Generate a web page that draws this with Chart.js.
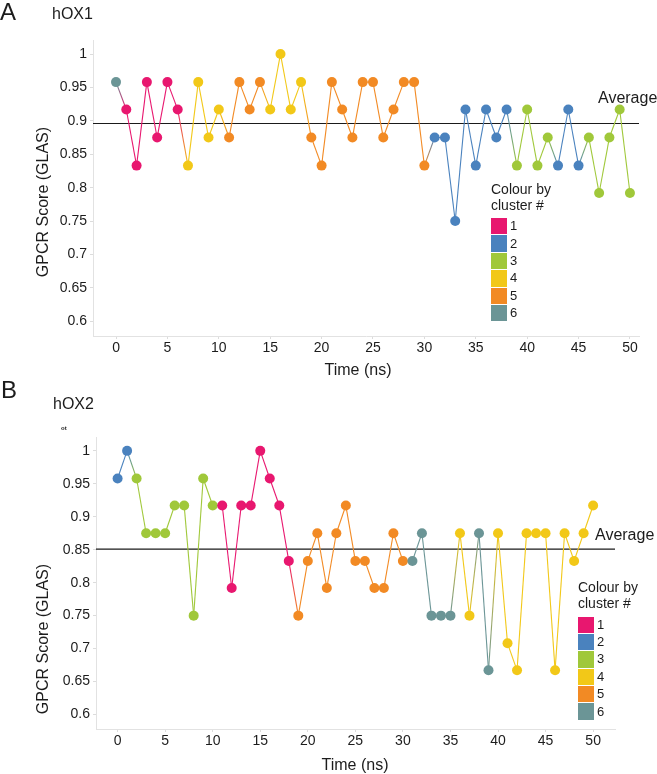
<!DOCTYPE html>
<html>
<head>
<meta charset="utf-8">
<script src="https://cdn.jsdelivr.net/npm/chart.js@4.4.0/dist/chart.umd.min.js"></script>
<style>
  body { margin: 0; background: #fff; font-family: 'Liberation Sans', Arial, Helvetica, sans-serif; color: #1c1c1c; }
  #page { position: relative; width: 657px; height: 774px; overflow: hidden; }
  canvas { position: absolute; left: 0; }
  .lbl { position: absolute; white-space: nowrap; line-height: 1; }
  .ytitle { transform: translate(-50%, -50%) rotate(-90deg); font-size: 16px; }
  .xtitle { transform: translate(-50%, -50%); font-size: 16px; }
  .legend { position: absolute; font-size: 14px; line-height: 16px; }
  .legend .row { display: flex; align-items: center; height: 17.4px; }
  .legend .sw { width: 16px; height: 16.4px; margin-right: 3px; }
  .legend .num { font-size: 13px; }
</style>
</head>
<body>
<div id="page">
  <canvas id="chartA" width="657" height="380" style="top:0"></canvas>
  <canvas id="chartB" width="657" height="394" style="top:380px"></canvas>
</div>
<script>
// time axis (ns) shared by both receptors
const timeNs = [0, 1, 2, 3, 4, 5, 6, 7, 8, 9, 10, 11, 12, 13, 14, 15, 16, 17, 18, 19,
  20, 21, 22, 23, 24, 25, 26, 27, 28, 29, 30, 31, 32, 33, 34, 35, 36, 37, 38, 39,
  40, 41, 42, 43, 44, 45, 46, 47, 48, 49, 50];

// hOX1 GLAS scores and cluster of each frame
const hox1Score = [0.958, 0.917, 0.833, 0.958, 0.875, 0.958, 0.917, 0.833, 0.958, 0.875,
  0.917, 0.875, 0.958, 0.917, 0.958, 0.917, 1.0, 0.917, 0.958, 0.875,
  0.833, 0.958, 0.917, 0.875, 0.958, 0.958, 0.875, 0.917, 0.958, 0.958,
  0.833, 0.875, 0.875, 0.75, 0.917, 0.833, 0.917, 0.875, 0.917, 0.833,
  0.917, 0.833, 0.875, 0.833, 0.917, 0.833, 0.875, 0.792, 0.875, 0.917, 0.792];
const hox1Cluster = [6, 1, 1, 1, 1, 1, 1, 4, 4, 4,
  4, 5, 5, 5, 5, 4, 4, 4, 4, 5,
  5, 5, 5, 5, 5, 5, 5, 5, 5, 5,
  5, 2, 2, 2, 2, 2, 2, 2, 2, 3,
  3, 3, 3, 2, 2, 2, 3, 3, 3, 3, 3];

// hOX2 GLAS scores and cluster of each frame
const hox2Score = [0.958, 1.0, 0.958, 0.875, 0.875, 0.875, 0.917, 0.917, 0.75, 0.958,
  0.917, 0.917, 0.792, 0.917, 0.917, 1.0, 0.958, 0.917, 0.833, 0.75,
  0.833, 0.875, 0.792, 0.875, 0.917, 0.833, 0.833, 0.792, 0.792, 0.875,
  0.833, 0.833, 0.875, 0.75, 0.75, 0.75, 0.875, 0.75, 0.875, 0.667,
  0.875, 0.708, 0.667, 0.875, 0.875, 0.875, 0.667, 0.875, 0.833, 0.875, 0.917];
const hox2Cluster = [2, 2, 3, 3, 3, 3, 3, 3, 3, 3,
  3, 1, 1, 1, 1, 1, 1, 1, 1, 5,
  5, 5, 5, 5, 5, 5, 5, 5, 5, 5,
  5, 6, 6, 6, 6, 6, 4, 4, 6, 6,
  4, 4, 4, 4, 4, 4, 4, 4, 4, 4, 4];

const averageScore = [0.896, 0.851];   // hOX1, hOX2

const clusterIds = [1, 2, 3, 4, 5, 6];
const clusterColors = ['#E8176F', '#4A82BE', '#A0C83A', '#F2C818', '#F28A24', '#6B9596'];

const xTicks = [0, 5, 10, 15, 20, 25, 30, 35, 40, 45, 50];
const yTicks = [0.6, 0.65, 0.7, 0.75, 0.8, 0.85, 0.9, 0.95, 1];

const FONT = "'Liberation Sans', Arial, Helvetica, sans-serif";
const colorOf = c => clusterColors[clusterIds.indexOf(c)];

function makeChart(canvasId, scores, clusters, avg, box) {
  const points = timeNs.map((t, i) => ({ x: t, y: scores[i] }));
  return new Chart(document.getElementById(canvasId), {
    type: 'line',
    data: {
      datasets: [
        {
          data: points,
          order: 0,
          borderWidth: 1.1,
          pointRadius: 5,
          pointHoverRadius: 5,
          pointBorderWidth: 0,
          pointBackgroundColor: clusters.map(colorOf),
          segment: {
            // blend colour of the two clusters joined by a segment
            borderColor: ctx => {
              const g = ctx.chart.ctx.createLinearGradient(ctx.p0.x, ctx.p0.y, ctx.p1.x, ctx.p1.y);
              g.addColorStop(0, colorOf(clusters[ctx.p0DataIndex]));
              g.addColorStop(1, colorOf(clusters[ctx.p1DataIndex]));
              return g;
            }
          }
        },
        {
          data: [{ x: box.xMin, y: avg }, { x: box.xMax, y: avg }],
          order: 1,
          borderColor: '#1a1a1a',
          borderWidth: 1.2,
          pointRadius: 0
        }
      ]
    },
    options: {
      responsive: false,
      animation: false,
      layout: { padding: { top: box.top, right: box.right, left: 0, bottom: 0 } },
      plugins: { legend: { display: false }, tooltip: { enabled: false } },
      scales: {
        x: {
          type: 'linear',
          min: box.xMin,
          max: box.xMax,
          afterFit: s => { s.height = box.xHeight; },
          afterBuildTicks: s => { s.ticks = xTicks.map(v => ({ value: v })); },
          grid: { display: true, drawOnChartArea: false, drawTicks: true, tickLength: 3, color: '#dcdcdc' },
          border: { display: true, color: '#e2e2e2', width: 1 },
          ticks: { color: '#1c1c1c', font: { family: FONT, size: 14 }, padding: 1, maxRotation: 0, callback: v => String(v) }
        },
        y: {
          min: 0.578,
          max: 1.021,
          afterFit: s => { s.width = box.yWidth; },
          afterBuildTicks: s => { s.ticks = yTicks.map(v => ({ value: v })); },
          grid: { display: true, drawOnChartArea: false, drawTicks: true, tickLength: 3, color: '#dcdcdc' },
          border: { display: true, color: '#e2e2e2', width: 1 },
          ticks: { color: '#1c1c1c', font: { family: FONT, size: 14 }, padding: 3, callback: v => String(v) }
        }
      }
    }
  });
}

makeChart('chartA', hox1Score, hox1Cluster, averageScore[0],
  { top: 40, right: 18, yWidth: 93, xHeight: 44, xMin: -2.24, xMax: 50.88 });
makeChart('chartB', hox2Score, hox2Cluster, averageScore[1],
  { top: 57, right: 42, yWidth: 96, xHeight: 45, xMin: -2.27, xMax: 52.3 });

// text annotations
const page = document.getElementById('page');
function addText(text, cls, style) {
  const d = document.createElement('div');
  d.className = 'lbl ' + cls;
  d.textContent = text;
  Object.assign(d.style, style);
  page.appendChild(d);
}
addText('A', '', { left: '0px', top: '0px', fontSize: '24px' });
addText('hOX1', '', { left: '52px', top: '5.5px', fontSize: '16px' });
addText('B', '', { left: '1px', top: '378px', fontSize: '24px' });
addText('hOX2', '', { left: '53px', top: '395.5px', fontSize: '16px' });
addText('ot', '', { left: '61px', top: '425px', fontSize: '6px', fontWeight: 'bold' });
addText('GPCR Score (GLAS)', 'ytitle', { left: '43px', top: '202px' });
addText('GPCR Score (GLAS)', 'ytitle', { left: '43px', top: '639px' });
addText('Time (ns)', 'xtitle', { left: '358px', top: '370px' });
addText('Time (ns)', 'xtitle', { left: '355px', top: '765px' });
addText('Average', '', { left: '598px', top: '89.5px', fontSize: '16px' });
addText('Average', '', { left: '595px', top: '526.5px', fontSize: '16px' });

function addLegend(left, top) {
  const lg = document.createElement('div');
  lg.className = 'legend';
  lg.style.left = left + 'px';
  lg.style.top = top + 'px';
  let html = '<div>Colour by<br>cluster #</div><div style="height:5px"></div>';
  clusterIds.forEach((c, i) => {
    html += '<div class="row"><div class="sw" style="background:' + clusterColors[i] + '"></div><span class="num">' + c + '</span></div>';
  });
  lg.innerHTML = html;
  page.appendChild(lg);
}
addLegend(491, 180.5);
addLegend(578, 579);
</script>
</body>
</html>
